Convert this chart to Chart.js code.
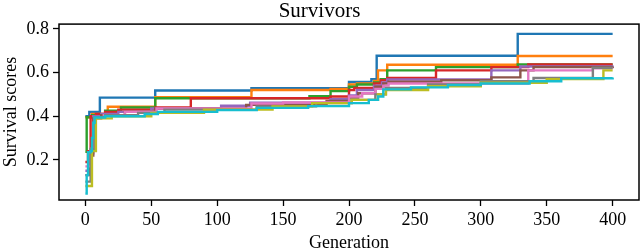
<!DOCTYPE html>
<html>
<head>
<meta charset="utf-8">
<script src="https://cdn.jsdelivr.net/npm/chart.js@4.4.0/dist/chart.umd.min.js"></script>
<style>
  html, body { margin: 0; padding: 0; background: #fff; overflow: hidden; }
</style>
</head>
<body>
<canvas id="grafico" width="640" height="258"></canvas>
<script>
// ticks de los ejes
const xTicks = [0, 50, 100, 150, 200, 250, 300, 350, 400];
const yTicks = [0.2, 0.4, 0.6, 0.8];

// colores (tab10)
const colores = ['#1f77b4', '#ff7f0e', '#2ca02c', '#d62728', '#9467bd',
                 '#8c564b', '#e377c2', '#7f7f7f', '#bcbd22', '#17becf'];

// cada serie: generacion donde cambia el valor y el valor nuevo
const gen1 = [0, 3, 11, 53, 126, 200, 217, 221, 328, 400];
const val1 = [0.40, 0.42, 0.485, 0.518, 0.528, 0.557, 0.57, 0.677, 0.777, 0.777];

const gen2 = [0, 5, 17, 53, 126, 186, 200, 206, 219, 222, 229, 328, 400];
const val2 = [0.395, 0.41, 0.443, 0.487, 0.52, 0.525, 0.545, 0.55, 0.562, 0.61, 0.636, 0.676, 0.676];

const gen3 = [0, 1, 5, 15, 27, 53, 170, 186, 200, 206, 219, 224, 229, 266, 328, 400];
const val3 = [0.237, 0.395, 0.405, 0.425, 0.44, 0.482, 0.492, 0.515, 0.535, 0.545, 0.555, 0.57, 0.61, 0.625, 0.637, 0.637];

const gen4 = [0, 2, 4, 8, 15, 25, 53, 80, 186, 200, 204, 219, 224, 229, 266, 308, 336, 400];
const val4 = [0.19, 0.24, 0.40, 0.41, 0.42, 0.43, 0.44, 0.482, 0.49, 0.52, 0.53, 0.55, 0.565, 0.575, 0.61, 0.625, 0.637, 0.637];

const gen5 = [0, 3, 6, 12, 25, 50, 103, 125, 186, 200, 206, 219, 225, 229, 308, 330, 400];
const val5 = [0.15, 0.23, 0.40, 0.41, 0.42, 0.435, 0.448, 0.462, 0.478, 0.495, 0.52, 0.54, 0.555, 0.568, 0.61, 0.628, 0.632];

const gen6 = [0, 3, 6, 12, 30, 53, 122, 183, 200, 207, 220, 226, 230, 270, 308, 330, 340, 400];
const val6 = [0.13, 0.22, 0.39, 0.405, 0.42, 0.435, 0.452, 0.47, 0.485, 0.505, 0.535, 0.55, 0.558, 0.565, 0.578, 0.61, 0.625, 0.627];

const gen7 = [0, 4, 7, 14, 30, 54, 126, 150, 200, 210, 220, 226, 230, 336, 385, 400];
const val7 = [0.17, 0.25, 0.395, 0.405, 0.42, 0.435, 0.458, 0.463, 0.49, 0.505, 0.525, 0.54, 0.55, 0.61, 0.62, 0.62];

const gen8 = [0, 4, 7, 15, 40, 60, 130, 175, 202, 220, 228, 260, 300, 340, 385, 400];
const val8 = [0.10, 0.25, 0.395, 0.405, 0.415, 0.43, 0.445, 0.46, 0.475, 0.50, 0.53, 0.545, 0.56, 0.575, 0.622, 0.622];

const gen9 = [0, 5, 8, 20, 50, 90, 142, 172, 202, 222, 228, 260, 300, 350, 393, 400];
const val9 = [0.08, 0.24, 0.39, 0.40, 0.415, 0.43, 0.445, 0.46, 0.475, 0.50, 0.52, 0.537, 0.553, 0.57, 0.61, 0.61];

const gen10 = [0, 1, 2, 4, 5, 6, 7, 15, 45, 55, 100, 130, 169, 200, 215, 222, 226, 247, 275, 300, 337, 361, 400];
const val10 = [0.046, 0.13, 0.235, 0.24, 0.30, 0.37, 0.394, 0.40, 0.41, 0.42, 0.428, 0.438, 0.446, 0.46, 0.475, 0.49, 0.523, 0.532, 0.543, 0.55, 0.56, 0.574, 0.577];

const gens = [gen1, gen2, gen3, gen4, gen5, gen6, gen7, gen8, gen9, gen10];
const vals = [val1, val2, val3, val4, val5, val6, val7, val8, val9, val10];

const fuente = "'Liberation Serif', 'DejaVu Serif', serif";
Chart.defaults.color = '#000';

// marco completo alrededor del area del grafico
const marco = {
    id: 'marco',
    afterDatasetsDraw(chart) {
        const a = chart.chartArea;
        const ctx = chart.ctx;
        ctx.save();
        ctx.strokeStyle = '#000';
        ctx.lineWidth = 1.5;
        ctx.strokeRect(a.left, a.top, a.right - a.left, a.bottom - a.top);
        ctx.restore();
    }
};

const datasets = gens.map((g, i) => ({
    label: 'serie ' + (i + 1),
    data: g.map((x, j) => ({ x: x, y: vals[i][j] })),
    borderColor: colores[i],
    borderWidth: 2.4,
    pointRadius: 0,
    stepped: 'before',
    fill: false,
    order: gens.length - i
}));

const chart = new Chart(document.getElementById('grafico'), {
    type: 'line',
    data: { datasets: datasets },
    options: {
        responsive: false,
        animation: false,
        layout: { padding: { left: 0, right: 1, top: 0, bottom: 0 } },
        plugins: {
            legend: { display: false },
            tooltip: { enabled: false },
            title: {
                display: true,
                text: 'Survivors',
                font: { family: fuente, size: 21, weight: 'normal', lineHeight: 1.1 },
                padding: { top: 0, bottom: 1 },
                color: '#000'
            }
        },
        scales: {
            x: {
                type: 'linear',
                min: -20,
                max: 420,
                afterBuildTicks: s => { s.ticks = xTicks.map(v => ({ value: v })); },
                afterFit: s => { s.height = 58; },
                grid: { drawOnChartArea: false, drawTicks: true, tickLength: 6, tickColor: '#000', tickWidth: 1.3 },
                border: { display: false },
                ticks: { font: { family: fuente, size: 18 }, padding: 3, color: '#000', maxRotation: 0 },
                title: {
                    display: true,
                    text: 'Generation',
                    font: { family: fuente, size: 18 },
                    padding: { top: 0, bottom: 4 },
                    color: '#000'
                }
            },
            y: {
                min: 0.016,
                max: 0.822,
                afterBuildTicks: s => { s.ticks = yTicks.map(v => ({ value: v })); },
                afterFit: s => { s.width = 59; },
                grid: { drawOnChartArea: false, drawTicks: true, tickLength: 6, tickColor: '#000', tickWidth: 1.3 },
                border: { display: false },
                ticks: { font: { family: fuente, size: 18 }, padding: 4, color: '#000', callback: v => v.toFixed(1) },
                title: {
                    display: true,
                    text: 'Survival scores',
                    font: { family: fuente, size: 18 },
                    padding: { top: 0, bottom: 0 },
                    color: '#000'
                }
            }
        }
    },
    plugins: [marco]
});
</script>
</body>
</html>
